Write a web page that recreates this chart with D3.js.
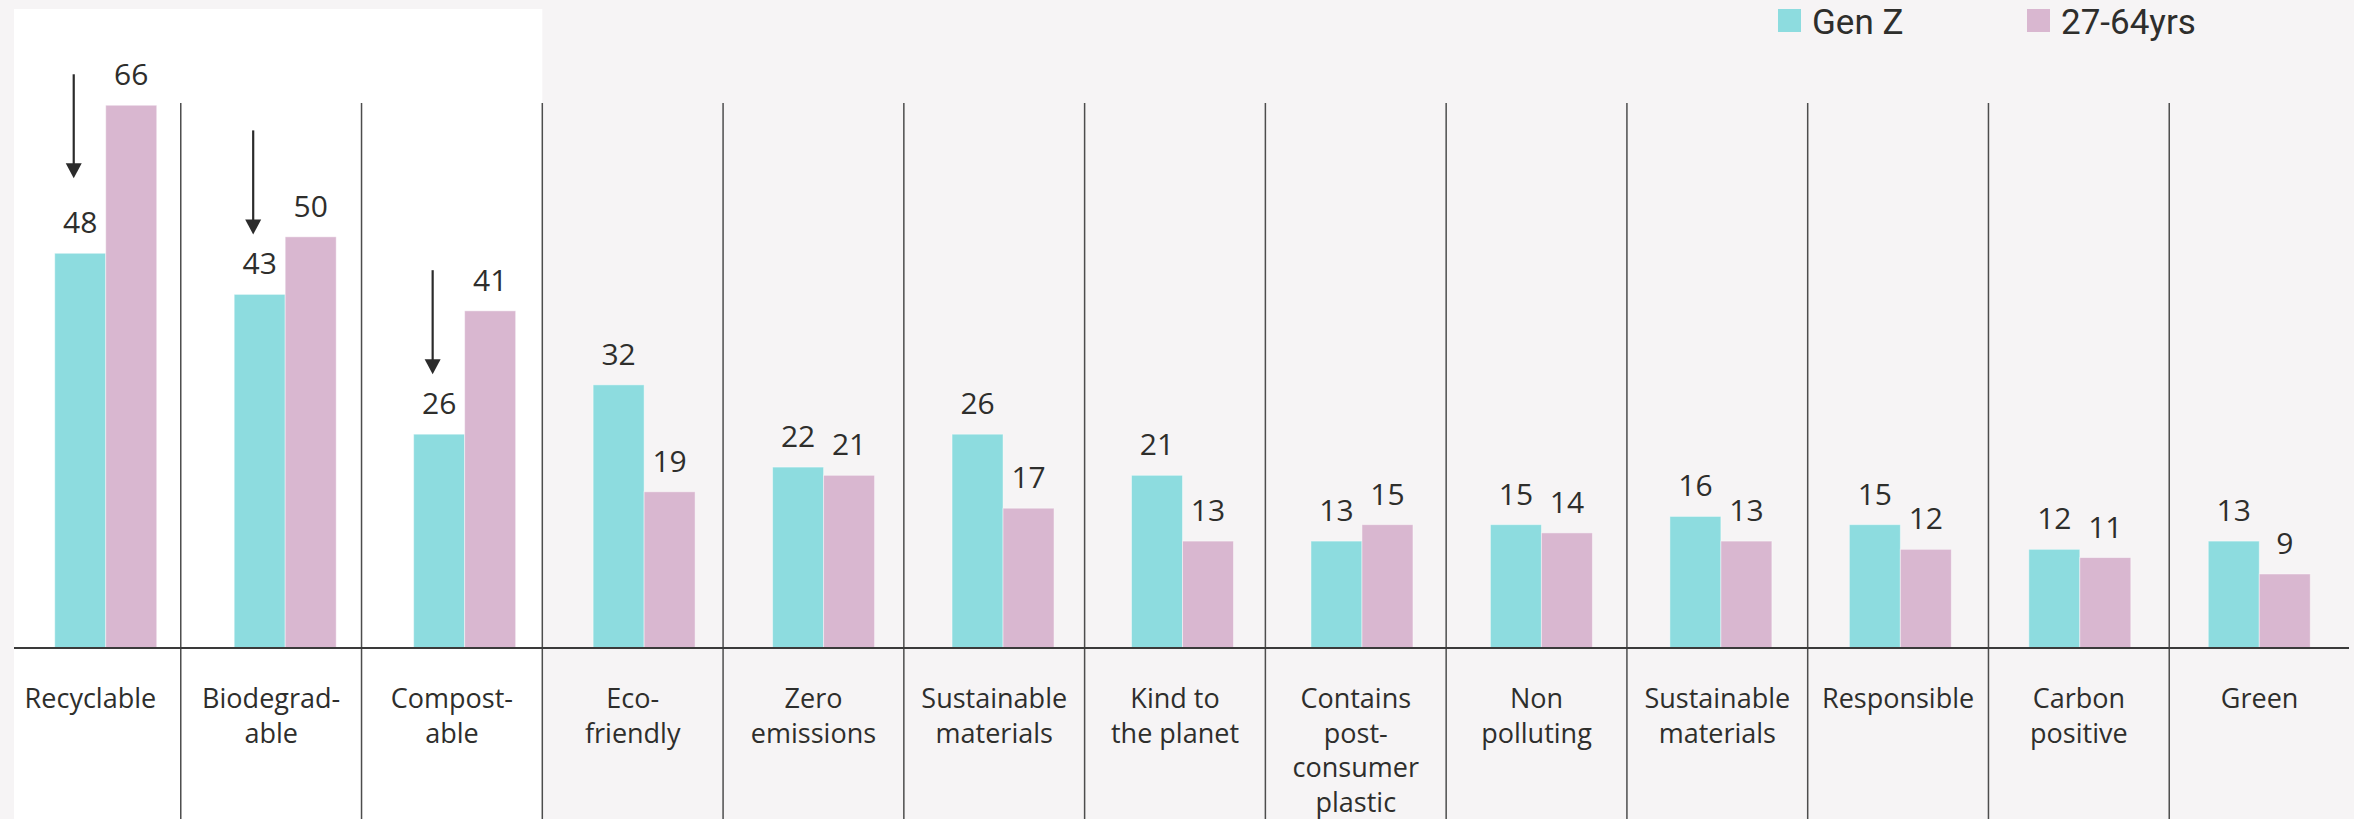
<!DOCTYPE html>
<html>
<head>
<meta charset="utf-8">
<script src="https://cdn.jsdelivr.net/npm/d3@7"></script>
<style>
  html, body { margin: 0; padding: 0; background: #f6f4f5; }
  svg { display: block; }
  text { font-family: "Segoe UI", "Open Sans", "Noto Sans", sans-serif; fill: #2e2e2c; }
</style>
</head>
<body>
<svg id="chart" width="2354" height="819"></svg>
<script>
// Claims used on packaging, share of respondents (%) by age group
const categories = [
  "Recyclable", "Biodegrad-|able", "Compost-|able", "Eco-|friendly",
  "Zero|emissions", "Sustainable|materials", "Kind to|the planet",
  "Contains|post-|consumer|plastic", "Non|polluting", "Sustainable|materials",
  "Responsible", "Carbon|positive", "Green"
];
const series = ["Gen Z", "27-64yrs"];
const genZ = [48, 43, 26, 32, 22, 26, 21, 13, 15, 16, 15, 12, 13];
const olderAdults = [66, 50, 41, 19, 21, 17, 13, 15, 14, 13, 12, 11, 9];
const colors = ["#8ddcdf", "#d9b7d0"];
// Categories where Gen Z falls behind: shown on a white panel with a down arrow
const highlighted = [0, 1, 2];

const W = 2354, H = 819;
const baseY = 648;
const svg = d3.select("#chart");

const idx = d3.range(categories.length);
const xCol = d3.scaleBand().domain(idx).range([0, 2350]);
const xBar = d3.scaleBand().domain(idx).range([16, 2349]);
const xSub = d3.scaleBand().domain(series).range([-51, 51]);
const y = d3.scaleLinear().domain([0, 78.8]).range([baseY, 0]);
const color = d3.scaleOrdinal().domain(series).range(colors);

const rows = idx.map(i => ({
  i,
  lines: categories[i].split("|"),
  values: [
    { s: series[0], v: genZ[i] },
    { s: series[1], v: olderAdults[i] }
  ]
}));

// White panel behind highlighted categories
svg.append("rect")
  .attr("x", 14)
  .attr("y", 9)
  .attr("width", xCol(d3.max(highlighted)) + xCol.bandwidth() - 14)
  .attr("height", H - 9)
  .attr("fill", "#ffffff");

// Column separators
svg.append("g")
  .selectAll("line")
  .data(idx.slice(1))
  .join("line")
  .attr("x1", i => xCol(i)).attr("x2", i => xCol(i))
  .attr("y1", 103).attr("y2", H)
  .attr("stroke", "#4d4d4d")
  .attr("stroke-width", 1.5);

// Bars
const groups = svg.append("g")
  .selectAll("g")
  .data(rows)
  .join("g")
  .attr("transform", d => `translate(${xBar(d.i) + xBar.bandwidth() / 2},0)`);

groups.selectAll("rect")
  .data(d => d.values)
  .join("rect")
  .attr("x", d => xSub(d.s))
  .attr("y", d => y(d.v))
  .attr("width", xSub.bandwidth())
  .attr("height", d => baseY - y(d.v))
  .attr("fill", d => color(d.s))
  .attr("stroke", "rgba(255,255,255,0.45)")
  .attr("stroke-width", 1);

groups.selectAll("text.value")
  .data(d => d.values)
  .join("text")
  .attr("class", "value")
  .attr("x", d => xSub(d.s) + xSub.bandwidth() / 2)
  .attr("y", d => y(d.v) - 20)
  .attr("text-anchor", "middle")
  .style("font-size", "30px")
  .text(d => d.v);

// Baseline
svg.append("line")
  .attr("x1", 14).attr("x2", 2349)
  .attr("y1", baseY).attr("y2", baseY)
  .attr("stroke", "#3a3a3a")
  .attr("stroke-width", 2);

// Category labels
const labels = svg.append("g")
  .selectAll("text")
  .data(rows)
  .join("text")
  .attr("text-anchor", "middle")
  .style("font-size", "27px")
  .attr("transform", d => `translate(${xCol(d.i) + xCol.bandwidth() / 2},708)`);

labels.selectAll("tspan")
  .data(d => d.lines)
  .join("tspan")
  .attr("x", 0)
  .attr("y", (l, j) => j * 34.5)
  .text(l => l);

// Down arrows above Gen Z bars in highlighted categories
const arrowLen = 104, headW = 16, headH = 15;
const arrowGap = [75, 60, 60]; // clearance between arrow tip and bar top
const arrows = svg.append("g")
  .selectAll("g")
  .data(highlighted)
  .join("g")
  .attr("transform", (i, k) => {
    const cx = xBar(i) + xBar.bandwidth() / 2 + xSub(series[0]) + xSub.bandwidth() / 2 - 6.5;
    const tip = y(genZ[i]) - arrowGap[k];
    return `translate(${cx},${tip})`;
  });
arrows.append("line")
  .attr("x1", 0).attr("x2", 0)
  .attr("y1", -arrowLen).attr("y2", -headH + 2)
  .attr("stroke", "#2b2b2b")
  .attr("stroke-width", 2.2);
arrows.append("path")
  .attr("d", `M${-headW / 2},${-headH} L${headW / 2},${-headH} L0,0 Z`)
  .attr("fill", "#2b2b2b");

// Legend
const legendX = [1778, 2027];
const legend = svg.append("g")
  .selectAll("g")
  .data(series)
  .join("g")
  .attr("transform", (s, k) => `translate(${legendX[k]},9)`);
legend.append("rect")
  .attr("width", 23).attr("height", 23)
  .attr("fill", s => color(s));
legend.append("text")
  .attr("x", 34).attr("y", 25)
  .style("font-family", "Roboto, 'Open Sans', sans-serif")
  .style("font-size", "35px")
  .text(s => s);
</script>
</body>
</html>
